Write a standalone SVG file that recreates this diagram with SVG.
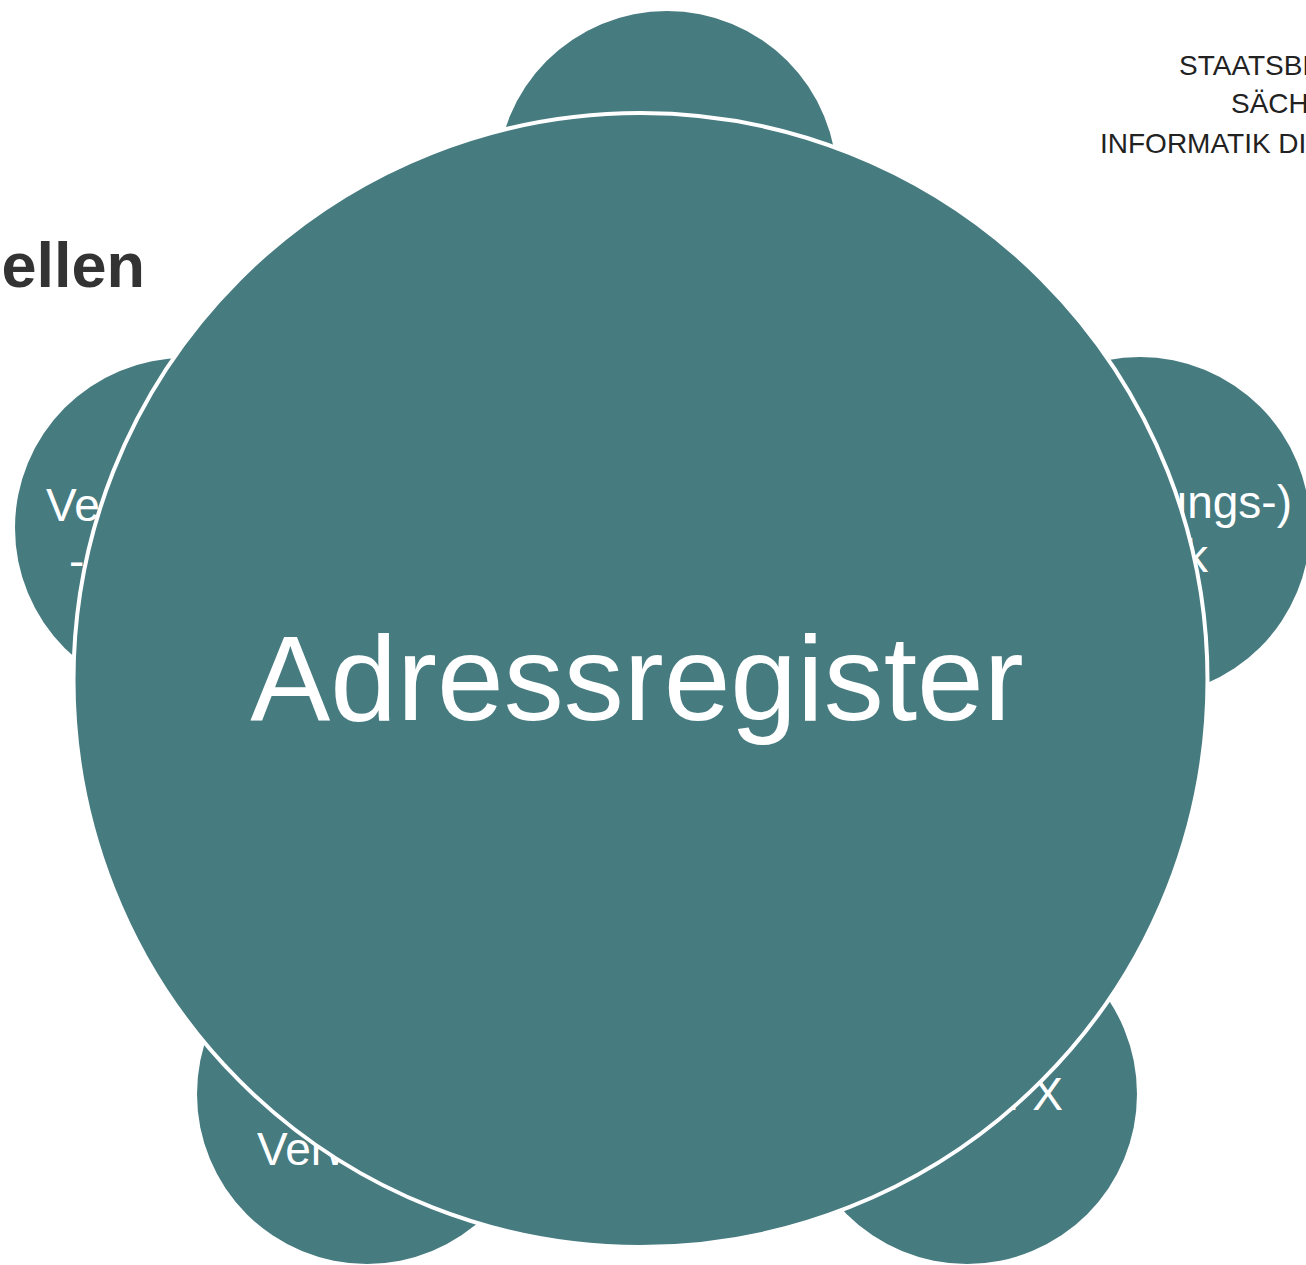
<svg xmlns="http://www.w3.org/2000/svg" width="1306" height="1265" viewBox="0 0 1306 1265">
<style>
.sat{fill:#467b80}
.lbl{font-family:"Liberation Sans",Arial,sans-serif;font-size:46px;fill:#ffffff}
.logo{font-family:"Liberation Sans",Arial,sans-serif;font-size:28px;fill:#222222}
</style>
<rect width="1306" height="1265" fill="#ffffff"/>
<g id="logo">
<text class="logo" x="1179" y="75">STAATSBE</text>
<text class="logo" x="1231" y="113">SÄCHS</text>
<text class="logo" x="1100" y="153">INFORMATIK DI</text>
</g>
<g id="title">
<text x="145" y="287" text-anchor="end" font-family="Liberation Sans, Arial, sans-serif" font-weight="bold" font-size="63" fill="#333333">ellen</text>
</g>
<g id="node-top">
<circle class="sat" cx="667" cy="181" r="170"/>
</g>
<g id="node-left">
<circle class="sat" cx="185" cy="528" r="170"/>
<text class="lbl" x="46" y="521">Verzeichnis-</text>
<text class="lbl" x="69" y="577">- dienst</text>
</g>
<g id="node-right">
<circle class="sat" cx="1140" cy="527" r="170"/>
<text class="lbl" x="1292" y="518" text-anchor="end">(Verwaltungs-)</text>
<text class="lbl" x="1208" y="572" text-anchor="end">Netzwerk</text>
</g>
<g id="node-bottom-left">
<circle class="sat" cx="367" cy="1094" r="170"/>
<text class="lbl" x="257" y="1165">Verwaltung</text>
</g>
<g id="node-bottom-right">
<circle class="sat" cx="967" cy="1094" r="170"/>
<text class="lbl" x="1063" y="1110" text-anchor="end">OSCI X</text>
</g>
<g id="connectors"></g>
<g id="node-center">
<circle class="sat" cx="640.5" cy="680" r="567" stroke="#ffffff" stroke-width="4"/>
<text x="637" y="720" text-anchor="middle" font-family="Liberation Sans, Arial, sans-serif" font-size="120" fill="#ffffff">Adressregister</text>
</g>
</svg>
